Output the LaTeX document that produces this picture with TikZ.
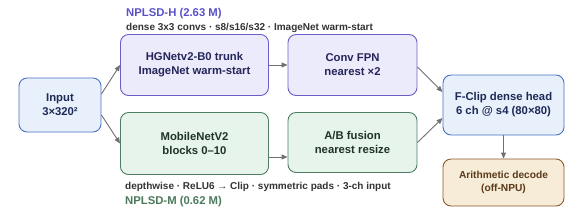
\documentclass[tikz,border=0pt]{standalone}
\usepackage{fontspec}
\setmainfont{Liberation Sans}
\usetikzlibrary{arrows.meta}
\definecolor{bluefill}{HTML}{E8F0FC}
\definecolor{bluedraw}{HTML}{4B6FC4}
\definecolor{bluetext}{HTML}{1C2A55}
\definecolor{purpfill}{HTML}{ECEBFC}
\definecolor{purpdraw}{HTML}{6A5FC8}
\definecolor{purptext}{HTML}{25255A}
\definecolor{grnfill}{HTML}{E6F4EC}
\definecolor{grndraw}{HTML}{4F7F63}
\definecolor{grntext}{HTML}{1F3328}
\definecolor{brnfill}{HTML}{F6ECD8}
\definecolor{brndraw}{HTML}{8A5A2B}
\definecolor{brntext}{HTML}{5A3A1A}
\definecolor{titleH}{HTML}{5A50C8}
\definecolor{titleM}{HTML}{4A7A5A}
\definecolor{subtext}{HTML}{333333}
\definecolor{arrowc}{HTML}{707070}
\tikzset{
  box/.style={draw, line width=0.9pt, rounded corners=8pt, align=center,
    font=\bfseries\fontsize{11.3}{14}\selectfont, inner sep=0pt},
  bluebox/.style={box, fill=bluefill, draw=bluedraw, text=bluetext},
  purpbox/.style={box, fill=purpfill, draw=purpdraw, text=purptext},
  grnbox/.style={box, fill=grnfill, draw=grndraw, text=grntext},
  brnbox/.style={box, fill=brnfill, draw=brndraw, text=brntext,
    font=\bfseries\fontsize{10.2}{13}\selectfont},
  conn/.style={draw=arrowc, line width=0.9pt, -{Triangle[length=6pt,width=5pt]}},
  ttl/.style={anchor=west, inner sep=0pt, font=\bfseries\fontsize{11.3}{13}\selectfont},
  sub/.style={anchor=west, inner sep=0pt, text=subtext, font=\bfseries\fontsize{10}{12}\selectfont}
}
\begin{document}
\begin{tikzpicture}[x=1pt,y=-1pt]
\useasboundingbox (0,0) rectangle (585,218);
\node[bluebox, minimum width=82pt, minimum height=54pt] (in) at (60,105) {Input\\3×320²};
\node[purpbox, minimum width=148pt, minimum height=61pt] (hg) at (194.5,65) {HGNetv2-B0 trunk\\ImageNet warm-start};
\node[purpbox, minimum width=129pt, minimum height=61pt] (fpn) at (352.5,65) {Conv FPN\\nearest ×2};
\node[grnbox, minimum width=148pt, minimum height=62pt] (mb) at (194.5,143.5) {MobileNetV2\\blocks 0–10};
\node[grnbox, minimum width=129pt, minimum height=60pt] (fu) at (352.5,142.5) {A/B fusion\\nearest resize};
\node[bluebox, minimum width=121pt, minimum height=60pt] (fc) at (503.5,105) {F-Clip dense head\\6 ch @ s4 (80×80)};
\node[brnbox, minimum width=121pt, minimum height=47pt] (ar) at (503.5,182.5) {Arithmetic decode\\(off-NPU)};
\node[ttl, text=titleH] (th) at (126,14) {NPLSD-H (2.63 M)};
\node[sub] (sh) at (126,28) {dense 3x3 convs · s8/s16/s32 · ImageNet warm-start};
\node[sub] (sm) at (125,187) {depthwise · ReLU6 → Clip · symmetric pads · 3-ch input};
\node[ttl, text=titleM] (tm) at (125,202) {NPLSD-M (0.62 M)};
\draw[conn] ([yshift=11pt]in.east) -- (hg.west);
\draw[conn] ([yshift=-10pt]in.east) -- (mb.west);
\draw[conn] (hg.east) -- (fpn.west);
\draw[conn] ([yshift=-13.5pt]mb.east) -- ([yshift=-13.5pt]mb.east -| fu.west);
\draw[conn] ([yshift=-2pt]fpn.east) -- ([yshift=13pt]fc.west);
\draw[conn] (fu.east) -- ([yshift=-13pt]fc.west);
\draw[conn] (fc.south) -- (ar.north);
\end{tikzpicture}
\end{document}
